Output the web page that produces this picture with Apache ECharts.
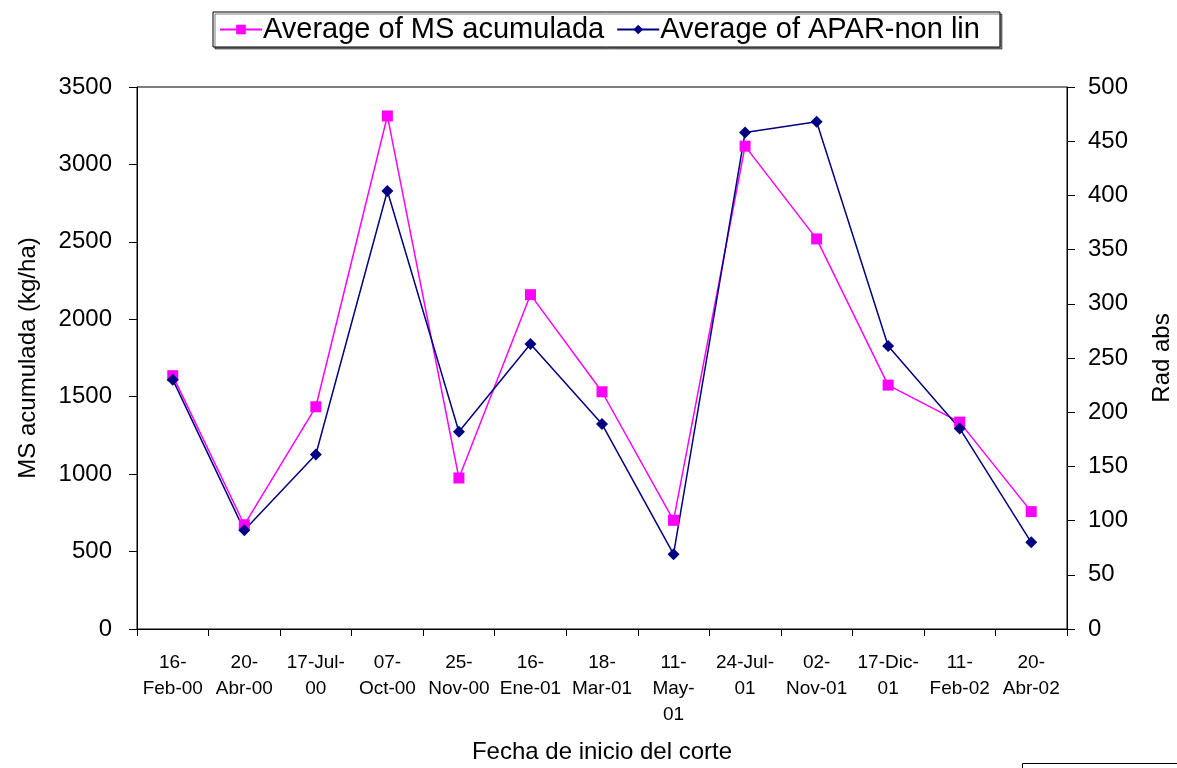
<!DOCTYPE html>
<html>
<head>
<meta charset="utf-8">
<script src="https://cdn.jsdelivr.net/npm/echarts@6/dist/echarts.min.js"></script>
<style>
html,body{margin:0;padding:0;background:#fff;}
#chart{width:1177px;height:768px;}
</style>
</head>
<body>
<div id="chart"></div>
<script>
const categories = ["16-Feb-00","20-Abr-00","17-Jul-00","07-Oct-00","25-Nov-00","16-Ene-01","18-Mar-01","11-May-01","24-Jul-01","02-Nov-01","17-Dic-01","11-Feb-02","20-Abr-02"];
const tickLabels = ["16-\nFeb-00","20-\nAbr-00","17-Jul-\n00","07-\nOct-00","25-\nNov-00","16-\nEne-01","18-\nMar-01","11-\nMay-\n01","24-Jul-\n01","02-\nNov-01","17-Dic-\n01","11-\nFeb-02","20-\nAbr-02"];
const msAcumulada = [1636, 673, 1435, 3313, 975, 2159, 1532, 702, 3118, 2519, 1575, 1336, 758];
const aparNonLin = [230, 91, 161, 404, 182, 263, 189, 69, 458, 468, 261, 185, 80];
const leftTicks = [0, 3500, 500];
const rightTicks = [0, 500, 50];

const FONT = 'Arial, "Liberation Sans", sans-serif';
const chart = echarts.init(document.getElementById('chart'), null, {renderer: 'canvas'});
chart.setOption({
  animation: false,
  backgroundColor: '#fff',
  textStyle: {fontFamily: FONT, color: '#000'},
  grid: {left: 137, right: 110, top: 87, bottom: 139, show: true, borderColor: '#000', borderWidth: 1, containLabel: false, outerBoundsMode: 'none'},
  legend: {
    top: 12, left: 213,
    padding: [3, 20, 3, 6],
    borderColor: '#000', borderWidth: 1,
    shadowColor: 'rgba(0,0,0,0.5)', shadowOffsetX: 2, shadowOffsetY: 2,
    backgroundColor: '#fff',
    itemWidth: 42, itemHeight: 12, itemGap: 12,
    textStyle: {fontSize: 29, fontFamily: FONT, color: '#000', padding: [0,0,0,-4]},
    data: ['Average of MS acumulada', 'Average of APAR-non lin']
  },
  xAxis: {
    type: 'category',
    data: categories,
    boundaryGap: true,
    name: 'Fecha de inicio del corte',
    nameLocation: 'middle',
    nameGap: 111,
    nameTextStyle: {fontSize: 24, fontFamily: FONT, color: '#000'},
    axisLine: {lineStyle: {color: '#000', width: 1}},
    axisTick: {show: true, length: 7, lineStyle: {color: '#000'}, alignWithLabel: false},
    axisLabel: {
      interval: 0, fontSize: 19, lineHeight: 26, margin: 21, color: '#000', fontFamily: FONT,
      formatter: function (v, i) { return tickLabels[i]; }
    }
  },
  yAxis: [
    {
      type: 'value', min: leftTicks[0], max: leftTicks[1], interval: leftTicks[2],
      name: 'MS acumulada (kg/ha)', nameLocation: 'middle', nameGap: 97, nameRotate: 90,
      nameTextStyle: {fontSize: 24, fontFamily: FONT, color: '#000'},
      axisLine: {show: true, lineStyle: {color: '#000'}},
      axisTick: {show: true, length: 8, lineStyle: {color: '#000'}},
      axisLabel: {fontSize: 24, margin: 25, color: '#000', fontFamily: FONT, formatter: function (v) { return String(v); }},
      splitLine: {show: false}
    },
    {
      type: 'value', min: rightTicks[0], max: rightTicks[1], interval: rightTicks[2],
      name: 'Rad abs', nameLocation: 'middle', nameGap: 83, nameRotate: 90,
      nameTextStyle: {fontSize: 24, fontFamily: FONT, color: '#000'},
      axisLine: {show: true, lineStyle: {color: '#000'}},
      axisTick: {show: true, length: 8, lineStyle: {color: '#000'}},
      axisLabel: {fontSize: 24, margin: 21, color: '#000', fontFamily: FONT, formatter: function (v) { return String(v); }},
      splitLine: {show: false}
    }
  ],
  series: [
    {
      name: 'Average of MS acumulada', type: 'line', yAxisIndex: 0,
      data: msAcumulada,
      symbol: 'rect', symbolSize: 11,
      lineStyle: {color: '#ff00ff', width: 1.5},
      itemStyle: {color: '#ff00ff'}
    },
    {
      name: 'Average of APAR-non lin', type: 'line', yAxisIndex: 1,
      data: aparNonLin,
      symbol: 'diamond', symbolSize: 12,
      lineStyle: {color: '#000080', width: 1.5},
      itemStyle: {color: '#000080'}
    }
  ],
  graphic: [
    {type: 'rect', left: 1022, top: 763, shape: {width: 200, height: 30}, style: {fill: '#fff', stroke: '#000', lineWidth: 1}}
  ]
});
</script>
</body>
</html>
